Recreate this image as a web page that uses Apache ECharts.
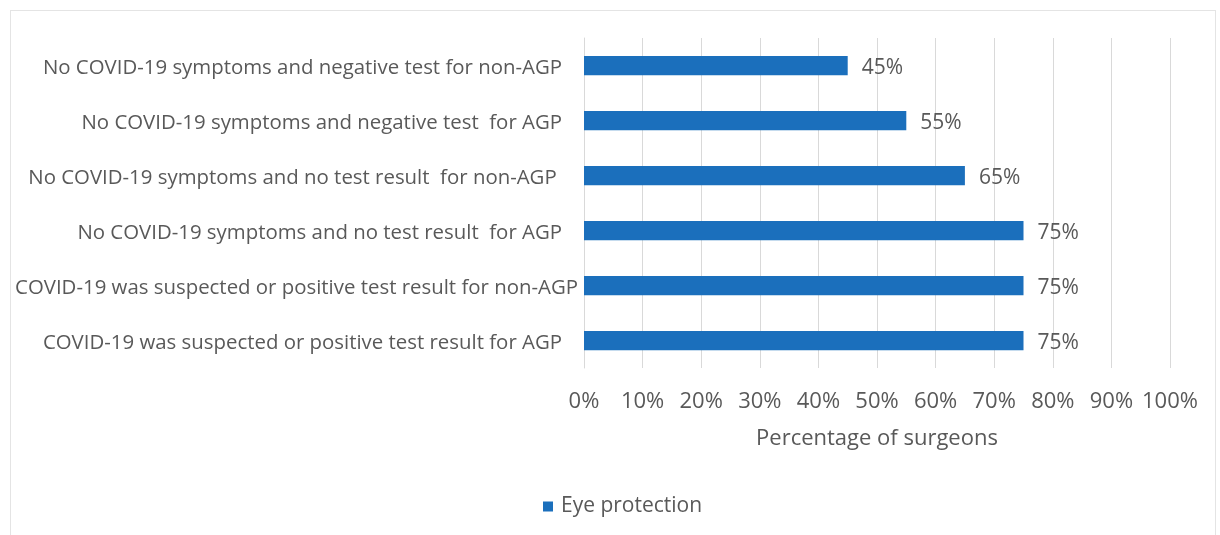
<!DOCTYPE html>
<html>
<head>
<meta charset="utf-8">
<script src="https://cdn.jsdelivr.net/npm/echarts@6/dist/echarts.min.js"></script>
<style>
html,body{margin:0;padding:0;background:#fff;}
#frame{position:absolute;left:10px;top:10px;width:1206px;height:540px;border:1px solid #e4e4e4;box-sizing:border-box;}
#chart{position:absolute;left:0;top:0;width:1220px;height:535px;}
</style>
</head>
<body>
<div id="frame"></div>
<div id="chart"></div>
<script>
const categories = [
  "COVID-19 was suspected or positive test result for AGP",
  "COVID-19 was suspected or positive test result for non-AGP",
  "No COVID-19 symptoms and no test result  for AGP",
  "No COVID-19 symptoms and no test result  for non-AGP ",
  "No COVID-19 symptoms and negative test  for AGP",
  "No COVID-19 symptoms and negative test for non-AGP"
];
const eyeProtection = [75, 75, 75, 65, 55, 45];
const xTicks = [0, 10, 20, 30, 40, 50, 60, 70, 80, 90, 100];
const seriesName = "Eye protection";
const axisTitle = "Percentage of surgeons";

const FONT = "'Open Sans', sans-serif";
const LONG = categories[1];
const chart = echarts.init(document.getElementById('chart'), null, {renderer: 'canvas'});
chart.setOption({
  animation: false,
  grid: {left: 584, right: 50, top: 38, bottom: 167, containLabel: false},
  legend: {
    data: [seriesName],
    bottom: 13,
    left: 538,
    icon: 'rect',
    itemWidth: 10,
    itemHeight: 10,
    itemGap: 8,
    textStyle: {fontFamily: FONT, fontSize: 21, color: '#595959', padding: [0, 0, 0, 3]}
  },
  xAxis: {
    type: 'value',
    min: xTicks[0],
    max: xTicks[xTicks.length - 1],
    interval: 10,
    name: axisTitle,
    nameLocation: 'middle',
    nameGap: 60,
    nameTextStyle: {fontFamily: FONT, fontSize: 22, color: '#595959'},
    axisLine: {show: false},
    axisTick: {show: false},
    splitLine: {show: true, lineStyle: {color: '#d9d9d9', width: 1}},
    axisLabel: {
      formatter: v => v + '%',
      fontFamily: FONT, fontSize: 22, color: '#595959', margin: 23
    }
  },
  yAxis: {
    type: 'category',
    data: categories,
    axisLine: {show: true, lineStyle: {color: '#d9d9d9'}},
    axisTick: {show: false},
    axisLabel: {
      margin: 22,
      formatter: v => (v === LONG ? '{l|' : '{a|') + v + '}',
      rich: {
        a: {fontFamily: FONT, fontSize: 20.4, color: '#595959', padding: [6, 0, 0, 0]},
        l: {fontFamily: FONT, fontSize: 20.4, color: '#595959', padding: [6, -16, 0, 0]}
      }
    }
  },
  series: [{
    name: seriesName,
    type: 'bar',
    data: eyeProtection,
    barWidth: '35%',
    itemStyle: {color: '#1b6fbc'},
    label: {
      show: true,
      position: 'right',
      distance: 14,
      offset: [0, 3],
      formatter: p => p.value + '%',
      fontFamily: FONT, fontSize: 21, color: '#595959'
    }
  }]
});
</script>
</body>
</html>
